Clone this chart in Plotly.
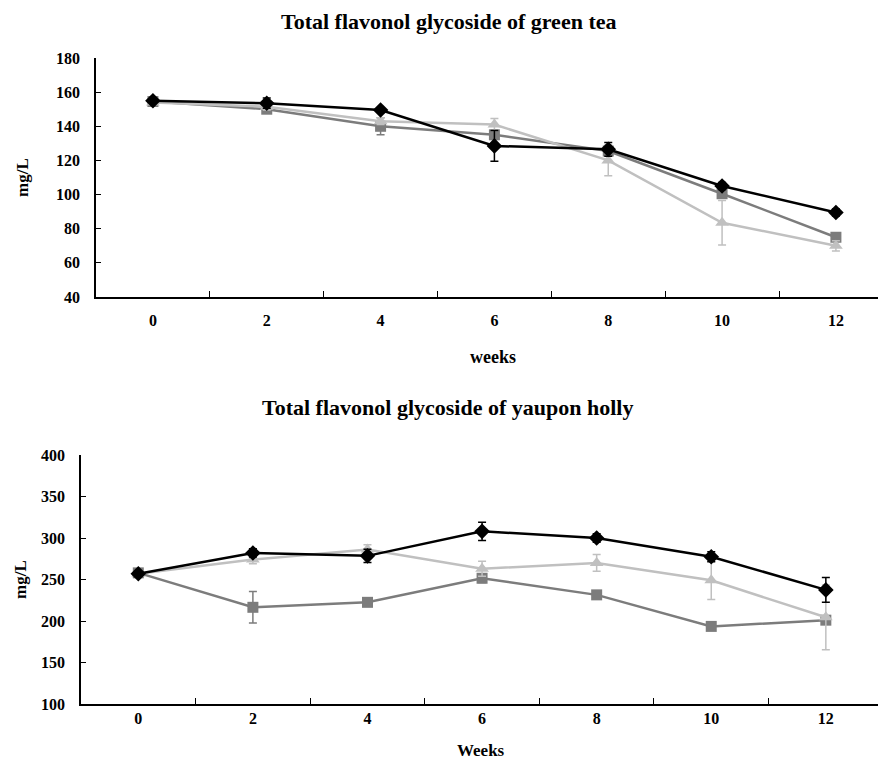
import plotly.graph_objects as go

weeks = [0, 2, 4, 6, 8, 10, 12]

# Green tea (top)
gt_black = [155, 153.5, 149.5, 128.5, 126.5, 105, 89.5]
gt_black_err = [1, 3, 1, 9, 4, 2, 2]
gt_square = [154.5, 150, 140, 135, 125.5, 100.5, 75]
gt_square_err = [1, 2, 5, 2, 2, 2, 2]
gt_tri = [154, 151.5, 143, 141, 120, 83.5, 70]
gt_tri_err = [1, 2, 2, 3.5, 9, 13, 3]

# Yaupon holly (bottom)
yh_black = [257, 282, 278.5, 308, 300, 277.5, 237.5]
yh_black_err = [2, 5, 8, 11, 5, 6, 15]
yh_square = [258, 216.5, 222.5, 251.5, 231.5, 193.5, 201]
yh_square_err = [2, 19, 3, 5, 5, 3, 3]
yh_tri = [257, 274, 286, 263, 270, 249, 204.5]
yh_tri_err = [2, 5, 6, 9, 10, 23, 39]

top_title = "Total flavonol glycoside of green tea"
bot_title = "Total flavonol glycoside of yaupon holly"

FONT = "Liberation Serif"
C_BLACK = "#000000"
C_SQ = "#7c7c7c"
C_TRI = "#c0c0c0"

# page offset from the default body margin
OFF = 8
W = 878.0
H = 752.0

def px(x):
    return (x - OFF) / W

def py(y):
    return 1 - (y - OFF) / H

fig = go.Figure()

def add_series(xa, ya, y, err, color, symbol, size):
    fig.add_trace(go.Scatter(
        x=weeks, y=y, xaxis=xa, yaxis=ya, mode="lines+markers",
        line=dict(color=color, width=2.5),
        marker=dict(symbol=symbol, size=size, color=color),
        error_y=dict(type="data", array=err, visible=True, color=color,
                     thickness=1.5, width=4),
        showlegend=False,
    ))

add_series("x", "y", gt_square, gt_square_err, C_SQ, "square", 11)
add_series("x", "y", gt_tri, gt_tri_err, C_TRI, "triangle-up", 12)
add_series("x", "y", gt_black, gt_black_err, C_BLACK, "diamond", 12)

add_series("x2", "y2", yh_square, yh_square_err, C_SQ, "square", 11)
add_series("x2", "y2", yh_tri, yh_tri_err, C_TRI, "triangle-up", 12)
add_series("x2", "y2", yh_black, yh_black_err, C_BLACK, "diamond", 12)

top_dom = [py(297), py(58)]
bot_dom = [py(704), py(455)]

tickfont = dict(family=FONT, size=16, color="#000", weight="bold")

def xaxis_base(x0, xmax):
    return dict(
        domain=[px(x0), 1], range=[-1, xmax], showgrid=False, zeroline=False,
        showline=True, linecolor="#000", linewidth=1.5,
        tickvals=[1, 3, 5, 7, 9, 11], ticks="inside", ticklen=6,
        tickcolor="#000", showticklabels=False, automargin=False,
    )

def xaxis_labels(over, anchor_y, x0, xmax, standoff):
    return dict(
        domain=[px(x0), 1], range=[-1, xmax], overlaying=over, anchor=anchor_y,
        showgrid=False, zeroline=False, showline=False,
        tickvals=weeks, ticktext=[str(w) for w in weeks], ticks="",
        tickfont=tickfont, ticklabelstandoff=standoff, automargin=False,
    )

def yaxis_base(dom, rng, dtick, anchor):
    return dict(
        domain=dom, range=rng, dtick=dtick, tick0=rng[0], anchor=anchor,
        showgrid=False, zeroline=False, showline=True, linecolor="#000",
        linewidth=1.5, ticks="inside", ticklen=5, tickcolor="#000",
        tickfont=tickfont, ticklabelstandoff=11, automargin=False,
    )

def ann(text, x, y, size, angle=0):
    return dict(text="<b>" + text + "</b>", x=px(x), y=py(y),
                xref="paper", yref="paper", showarrow=False,
                xanchor="center", yanchor="middle", textangle=angle,
                font=dict(family=FONT, size=size, color="#000"))

fig.update_layout(
    width=W, height=H, autosize=False,
    margin=dict(l=0, r=0, t=0, b=0, pad=0, autoexpand=False),
    paper_bgcolor="white", plot_bgcolor="white",
    showlegend=False,
    xaxis=dict(**xaxis_base(96, 12.88), anchor="y"),
    yaxis=yaxis_base(top_dom, [40, 180], 20, "x"),
    xaxis2=dict(**xaxis_base(81, 13.05), anchor="y2"),
    yaxis2=yaxis_base(bot_dom, [100, 400], 50, "x2"),
    xaxis3=xaxis_labels("x", "y", 96, 12.88, 12),
    xaxis4=xaxis_labels("x2", "y2", 81, 13.05, 3),
    annotations=[
        ann(top_title, 448, 22, 22),
        ann(bot_title, 447, 407, 22),
        ann("weeks", 493, 357, 18),
        ann("Weeks", 481, 750, 17),
        ann("mg/L", 22, 178, 17, -90),
        ann("mg/L", 20, 580, 17, -90),
    ],
)

fig.add_trace(go.Scatter(x=[None], y=[None], xaxis="x3", yaxis="y", showlegend=False, hoverinfo="skip"))
fig.add_trace(go.Scatter(x=[None], y=[None], xaxis="x4", yaxis="y2", showlegend=False, hoverinfo="skip"))

fig.write_html("out.html")
